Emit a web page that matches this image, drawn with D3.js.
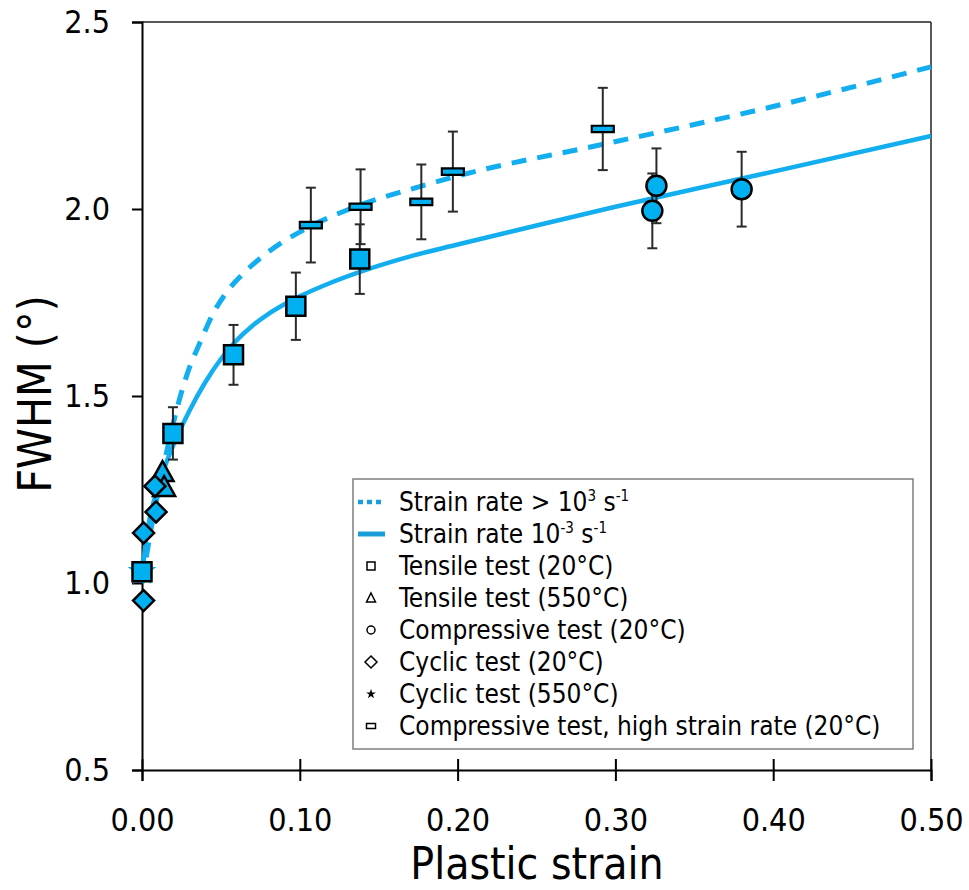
<!DOCTYPE html>
<html><head><meta charset="utf-8">
<script src="https://cdn.jsdelivr.net/npm/d3@7"></script>
<style>
html,body{margin:0;padding:0;background:#fff;}
svg{display:block;}
text{font-family:"DejaVu Sans Condensed","DejaVu Sans",sans-serif;font-stretch:condensed;fill:#000;}
</style></head>
<body><svg id="c" width="969" height="890"></svg>
<script>
// ---- data ----
const xTicks = [0, 0.1, 0.2, 0.3, 0.4, 0.5];
const xTickLabels = ["0.00", "0.10", "0.20", "0.30", "0.40", "0.50"];
const yTicks = [0.5, 1.0, 1.5, 2.0, 2.5];
const yTickLabels = ["0.5", "1.0", "1.5", "2.0", "2.5"];

// fitted curves
const curveLowX = [0, 0.002, 0.005, 0.01, 0.015, 0.02, 0.03, 0.04, 0.05, 0.06, 0.07, 0.08, 0.09, 0.1, 0.12, 0.14, 0.17, 0.2, 0.25, 0.3, 0.4, 0.5];
const curveLowY = [1.0, 1.10, 1.175, 1.255, 1.3175, 1.37, 1.46, 1.536, 1.599, 1.649, 1.688, 1.719, 1.7445, 1.7665, 1.8035, 1.8345, 1.8735, 1.905, 1.956, 2.006, 2.10, 2.195];
const curveHighX = [0, 0.006, 0.013, 0.02, 0.025, 0.03, 0.037, 0.045, 0.055, 0.066, 0.08, 0.106, 0.138, 0.176, 0.2014, 0.29, 0.396, 0.5];
const curveHighY = [1.0, 1.15, 1.30, 1.43, 1.51, 1.575, 1.645, 1.72, 1.785, 1.835, 1.885, 1.952, 2.01, 2.06, 2.09, 2.171, 2.27, 2.38];

const tensile20X = [0.000, 0.0196, 0.058, 0.0975, 0.138];
const tensile20Y = [1.03, 1.40, 1.61, 1.74, 1.866];
const tensile20Err = [0, 0.07, 0.08, 0.09, 0.093];

const tensile550X = [0.013, 0.014];
const tensile550Y = [1.294, 1.254];

const compressive20X = [0.326, 0.3234, 0.380];
const compressive20Y = [2.062, 1.995, 2.053];
const compressive20Err = [0.1, 0.1, 0.1];

const cyclic20X = [0.0082, 0.0089, 0.001, 0.001];
const cyclic20Y = [1.259, 1.19, 1.134, 0.953];

const cyclic550X = [0.0];
const cyclic550Y = [1.03];

const hsrX = [0.107, 0.1385, 0.177, 0.197, 0.292];
const hsrY = [1.957, 2.006, 2.019, 2.10, 2.214];
const hsrErr = [0.1, 0.1, 0.1, 0.107, 0.11];

const legendLabels = [
  ["Strain rate > 10", "3", " s", "-1"],
  ["Strain rate 10", "-3", " s", "-1"],
  ["Tensile test (20°C)"],
  ["Tensile test (550°C)"],
  ["Compressive test (20°C)"],
  ["Cyclic test (20°C)"],
  ["Cyclic test (550°C)"],
  ["Compressive test, high strain rate (20°C)"]
];

// ---- drawing ----
const BLUE = "#00B0F0";
const LINEBLUE = "#12aef0";
const svg = d3.select("#c");
const x = d3.scaleLinear().domain([0, 0.5]).range([142, 931]);
const y = d3.scaleLinear().domain([0.5, 2.5]).range([770, 22]);

// frame top/right
svg.append("line").attr("x1", x(0)).attr("x2", x(0.5)).attr("y1", y(2.5)).attr("y2", y(2.5)).attr("stroke", "#222").attr("stroke-width", 1.5);
svg.append("line").attr("x1", x(0.5)).attr("x2", x(0.5)).attr("y1", y(2.5)).attr("y2", y(0.5)).attr("stroke", "#222").attr("stroke-width", 1.5);

// x axis
const gx = svg.append("g").attr("transform", `translate(0,${y(0.5)})`)
  .call(d3.axisBottom(x).tickValues(xTicks).tickFormat((d, i) => xTickLabels[i]).tickSize(11).tickPadding(27));
gx.select(".domain").attr("stroke", "#000").attr("stroke-width", 2);
gx.selectAll(".tick line").attr("stroke", "#000").attr("stroke-width", 2).attr("y1", -11);
gx.selectAll(".tick text").attr("font-size", 32).attr("font-family", null);

// y axis
const gy = svg.append("g").attr("transform", `translate(${x(0)},0)`)
  .call(d3.axisLeft(y).tickValues(yTicks).tickFormat((d, i) => yTickLabels[i]).tickSize(10).tickPadding(22));
gy.select(".domain").attr("stroke", "#000").attr("stroke-width", 2);
gy.selectAll(".tick line").attr("stroke", "#000").attr("stroke-width", 2);
gy.selectAll(".tick text").attr("font-size", 32).attr("font-family", null);

// axis titles
svg.append("text").attr("x", 537).attr("y", 879).attr("text-anchor", "middle").attr("font-size", 44).text("Plastic strain");
svg.append("text").attr("transform", "translate(51,394) rotate(-90)").attr("text-anchor", "middle").attr("font-size", 46).text("FWHM (°)");

// curves
const line = d3.line().x(d => x(d[0])).y(d => y(d[1])).curve(d3.curveMonotoneX);
const plot = svg.append("g");
plot.append("path").datum(curveLowX.map((v, i) => [v, curveLowY[i]]))
  .attr("d", line).attr("fill", "none").attr("stroke", LINEBLUE).attr("stroke-width", 4.5);
plot.append("path").datum(curveHighX.map((v, i) => [v, curveHighY[i]]))
  .attr("d", line).attr("fill", "none").attr("stroke", LINEBLUE).attr("stroke-width", 5).attr("stroke-dasharray", "15,11");

// error bars
function errBars(xs, ys, es) {
  xs.forEach((xv, i) => {
    const e = es[i]; if (!e) return;
    const g = plot.append("g").attr("stroke", "#2a2a2a").attr("stroke-width", 2);
    g.append("line").attr("x1", x(xv)).attr("x2", x(xv)).attr("y1", y(ys[i] - e)).attr("y2", y(ys[i] + e));
    [ys[i] - e, ys[i] + e].forEach(v => g.append("line").attr("x1", x(xv) - 5).attr("x2", x(xv) + 5).attr("y1", y(v)).attr("y2", y(v)));
  });
}
errBars(tensile20X, tensile20Y, tensile20Err);
errBars(compressive20X, compressive20Y, compressive20Err);
errBars(hsrX, hsrY, hsrErr);

// markers
const sym = (type, size) => d3.symbol().type(type).size(size)();
function markers(xs, ys, path, opts = {}) {
  xs.forEach((xv, i) => {
    plot.append("path").attr("d", path).attr("transform", `translate(${x(xv)},${y(ys[i])})`)
      .attr("fill", opts.fill || BLUE).attr("stroke", opts.stroke || "#000").attr("stroke-width", opts.sw == null ? 2.5 : opts.sw);
  });
}
markers(cyclic550X, cyclic550Y, sym(d3.symbolStar, 260), { stroke: "none", sw: 0 });
markers(tensile20X, tensile20Y, sym(d3.symbolSquare, 19 * 19));
markers(tensile550X, tensile550Y, "M0,-12L11,8L-11,8Z");
markers(compressive20X, compressive20Y, sym(d3.symbolCircle, Math.PI * 100));
markers(cyclic20X, cyclic20Y, "M0,-10.5L10.5,0L0,10.5L-10.5,0Z");
markers(hsrX, hsrY, "M-11,-3.2L11,-3.2L11,3.2L-11,3.2Z", { sw: 2.2 });

// legend
const lg = svg.append("g");
lg.append("rect").attr("x", 353).attr("y", 479).attr("width", 560).attr("height", 270)
  .attr("fill", "#fff").attr("stroke", "#7f7f7f").attr("stroke-width", 1.5);
const rowY = i => 502 + i * 32;
legendLabels.forEach((parts, i) => {
  const t = lg.append("text").attr("x", 399).attr("y", rowY(i)).attr("dy", "0.36em").attr("font-size", 26);
  if (parts.length === 1) t.text(parts[0]);
  else {
    t.append("tspan").text(parts[0]);
    t.append("tspan").attr("font-size", 15).attr("dy", -10).text(parts[1]);
    t.append("tspan").attr("dy", 10).text(parts[2]);
    t.append("tspan").attr("font-size", 15).attr("dy", -10).text(parts[3]);
  }
});
const lx = 371;
lg.append("line").attr("x1", 358).attr("x2", 385).attr("y1", rowY(0)).attr("y2", rowY(0))
  .attr("stroke", "#1a9ed9").attr("stroke-width", 4.5).attr("stroke-dasharray", "5,4");
lg.append("line").attr("x1", 358).attr("x2", 385).attr("y1", rowY(1)).attr("y2", rowY(1))
  .attr("stroke", "#1a9ed9").attr("stroke-width", 5);
const legSyms = [
  "M-4,-4L4,-4L4,4L-4,4Z",
  "M0,-5L4.5,4L-4.5,4Z",
  null,
  "M0,-6L6,0L0,6L-6,0Z",
  sym(d3.symbolStar, 30),
  "M-4.5,-2.5L4.5,-2.5L4.5,2.5L-4.5,2.5Z"
];
legSyms.forEach((p, k) => {
  const ry = rowY(k + 2);
  if (p === null) {
    lg.append("circle").attr("cx", lx).attr("cy", ry).attr("r", 4).attr("fill", "none").attr("stroke", "#000").attr("stroke-width", 1.5);
  } else if (k === 4) {
    lg.append("path").attr("d", p).attr("transform", `translate(${lx},${ry})`).attr("fill", "#000");
  } else {
    lg.append("path").attr("d", p).attr("transform", `translate(${lx},${ry})`).attr("fill", "none").attr("stroke", "#000").attr("stroke-width", 1.5);
  }
});
</script></body></html>
